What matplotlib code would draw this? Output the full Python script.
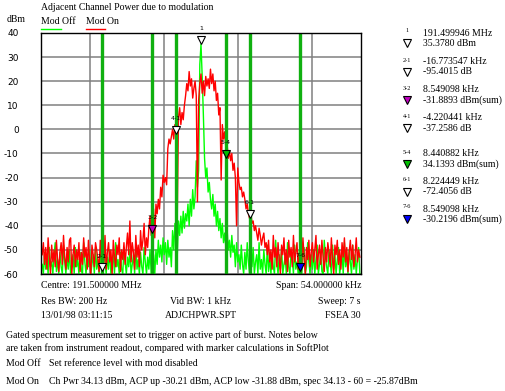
import numpy as np
import matplotlib.pyplot as plt

# spectrum traces in dBm, one point every 0.2 kHz from -26.8 to +26.8 kHz about the centre
mod_on = [
    -52, -47, -56, -49, -58, -45, -53, -60, -48, -55,
    -50, -57, -46, -54, -59, -51, -47, -56, -44, -53,
    -58, -49, -55, -46, -45, -60, -52, -48, -57, -50,
    -54, -47, -59, -51, -56, -45, -53, -49, -58, -46,
    -55, -60, -48, -52, -57, -47, -50, -54, -59, -46,
    -53, -49, -56, -44, -58, -51, -47, -55, -50, -60,
    -46, -53, -57, -48, -52, -45, -59, -50, -54, -47,
    -56, -49, -43, -52, -38, -55, -47, -51, -58, -44,
    -53, -48, -57, -42, -50, -46, -39, -52, -45, -49,
    -41, -36, -44, -38, -33, -45, -31, -35, -29, -33,
    -24, -28, -19, -22, -20, -23, -8, -4, -6, -3,
    0, -4, 2, -1, -35, 5, 9, 2, 7, 4,
    10, 14, 19, 16, 24, 18, 21, 13, 17, 20,
    14, -30, 12, 19, 23, 15, 20, 14, 22, 18,
    21, 17, 25, 19, 23, 16, 20, 12, 15, 6,
    9, -21, 2, -4, -1, -8, -6, -12, -9, -13,
    -10, -17, -14, -20, -40, -16, -22, -25, -24, -28,
    -26, -29, -33, -31, -35, -37, -34, -39, -38, -42,
    -40, -43, -46, -41, -44, -48, -45, -43, -49, -47,
    -52, -46, -55, -50, -58, -44, -53, -49, -57, -47,
    -54, -60, -48, -52, -45, -56, -50, -59, -46, -53,
    -49, -57, -44, -55, -51, -47, -58, -52, -48, -56,
    -45, -53, -60, -49, -54, -46, -57, -51, -47, -55,
    -50, -44, -58, -52, -48, -56, -46, -53, -59, -49,
    -55, -47, -51, -57, -45, -54, -60, -48, -52, -46,
    -56, -50, -58, -47, -53, -45, -55, -49, -59, -51,
    -46, -54, -48, -57, -52, -45, -55, -50, -53,
]
mod_off = [
    -56, -60, -51, -58, -53, -60, -49, -57, -55, -60,
    -52, -47, -59, -54, -60, -51, -57, -60, -48, -55,
    -60, -53, -58, -50, -60, -56, -52, -60, -49, -57,
    -54, -60, -51, -58, -60, -47, -55, -60, -53, -57,
    -50, -60, -56, -52, -60, -49, -58, -54, -60, -51,
    -57, -60, -48, -55, -60, -53, -58, -50, -60, -56,
    -52, -60, -47, -57, -54, -60, -51, -58, -60, -49,
    -55, -60, -53, -57, -50, -60, -56, -52, -60, -48,
    -58, -54, -60, -51, -57, -60, -49, -55, -60, -53,
    -58, -50, -60, -56, -52, -60, -50, -56, -46, -53,
    -48, -55, -45, -52, -47, -56, -46, -53, -49, -57,
    -42, -50, -39, -47, -52, -38, -44, -36, -43, -34,
    -41, -35, -38, -31, -40, -29, -36, -25, -33, -28,
    -13, -24, -17, 27, 35.4, 22, 6, -12, -20, -16,
    -26, -22, -29, -33, -27, -36, -31, -40, -34, -42,
    -37, -45, -39, -47, -43, -49, -41, -50, -46, -53,
    -44, -51, -48, -57, -47, -55, -52, -58, -48, -56,
    -60, -51, -58, -47, -55, -60, -53, -57, -49, -60,
    -55, -52, -60, -47, -58, -54, -60, -50, -56, -60,
    -48, -59, -53, -60, -51, -57, -60, -46, -55, -60,
    -52, -58, -49, -60, -56, -53, -60, -47, -57, -60,
    -51, -54, -60, -48, -58, -55, -60, -50, -56, -60,
    -53, -49, -60, -57, -47, -55, -60, -52, -58, -50,
    -60, -54, -48, -60, -56, -51, -59, -60, -46, -53,
    -57, -60, -50, -55, -60, -48, -58, -52, -60, -54,
    -49, -60, -56, -51, -60, -47, -57, -53, -60, -50,
    -55, -60, -48, -58, -52, -60, -54, -49, -60,
]
freq_khz = np.linspace(-26.8, 26.8, len(mod_on))

y_ticks = [40, 30, 20, 10, 0, -10, -20, -30, -40, -50, -60]
grid_khz = [-18.75, -6.25, 6.25, 18.75]
channel_khz = [-16.75, -8.25, -4.25, 4.25, 8.25, 16.75]

marker_names = ['1', '2-1', '3-2', '4-1', '5-4', '6-1', '7-6']
marker_khz = [0.0, -16.77, -8.22, -4.22, 4.22, 8.22, 16.77]
marker_dbm = [37.3, -57.3, -41.3, -0.2, -10.2, -34.9, -57.0]
marker_fill = ['white', 'white', '#c000c0', 'white', '#00c000', 'white', '#0000ff']
marker_line1 = ['191.499946 MHz', '-16.773547 kHz', '8.549098 kHz', '-4.220441 kHz',
                '8.440882 kHz', '8.224449 kHz', '8.549098 kHz']
marker_line2 = ['35.3780 dBm', '-95.4015 dB', '-31.8893 dBm(sum)', '-37.2586 dB',
                '34.1393 dBm(sum)', '-72.4056 dB', '-30.2196 dBm(sum)']
panel_y = [33, 62, 90, 118, 154, 182, 209]

W, H = 505, 391
FONT = 'Liberation Serif'
fig = plt.figure(figsize=(W / 100, H / 100), dpi=100)
ax = fig.add_axes([41 / W, 1 - 274 / H, 320 / W, 241 / H])


def txt(x, y, s, size=7, ha='left', **kw):
    fig.text(x / W, 1 - y / H, s, ha=ha, va='center', fontsize=size, family=FONT, **kw)


# grid
for y in y_ticks:
    ax.axhline(y, color='#808080', lw=1.1, zorder=1)
for x in grid_khz:
    ax.axvline(x, color='#808080', lw=1.1, zorder=1)

# traces
ax.plot(freq_khz, mod_off, color='#00ff00', lw=1.0, zorder=2)
ax.plot(freq_khz, mod_on, color='#ff0000', lw=1.0, zorder=3)

# channel limits
for x in channel_khz:
    ax.axvline(x, color='#10b010', lw=2.4, zorder=4)

# markers
for name, fx, lv, fc in zip(marker_names, marker_khz, marker_dbm, marker_fill):
    ax.plot(fx, lv, marker='v', ms=6, mfc=fc, mec='black', mew=0.8, zorder=6, clip_on=False)
    ax.annotate(name, (fx, lv), xytext=(0, 8), textcoords='offset points', ha='center',
                va='center', fontsize=4.5, family='DejaVu Sans', zorder=6,
                annotation_clip=False)

ax.set_xlim(-27, 27)
ax.set_ylim(-60, 40)
ax.set_xticks([])
ax.set_yticks(y_ticks)
ax.set_yticklabels([str(v) for v in y_ticks], family='DejaVu Sans', fontsize=6.5)
ax.tick_params(axis='y', length=0, pad=16)
for s in ax.spines.values():
    s.set_color('black')
    s.set_linewidth(1.0)
    s.set_zorder(5)

# header
txt(41, 8, 'Adjacent Channel Power due to modulation')
txt(7, 19, 'dBm')
txt(41, 22, 'Mod Off')
txt(86, 22, 'Mod On')
fig.add_artist(plt.Line2D([41 / W, 61 / W], [1 - 29 / H] * 2, color='#00ff00', lw=1))
fig.add_artist(plt.Line2D([86 / W, 105 / W], [1 - 29 / H] * 2, color='#ff0000', lw=1))

# marker panel
for name, fc, l1, l2, y in zip(marker_names, marker_fill, marker_line1, marker_line2, panel_y):
    txt(407, y - 2, name, size=4.5, ha='center')
    fig.add_artist(plt.Line2D([407 / W], [1 - (y + 10) / H], marker='v', ms=6, mfc=fc,
                              mec='black', mew=0.8))
    txt(423, y, l1)
    txt(423, y + 10, l2)

# instrument settings
txt(41, 285, 'Centre: 191.500000 MHz')
txt(361, 285, 'Span: 54.000000 kHz', ha='right')
txt(41, 301, 'Res BW: 200 Hz')
txt(201, 301, 'Vid BW: 1 kHz', ha='center')
txt(361, 301, 'Sweep: 7 s', ha='right')
txt(41, 316, '13/01/98 03:11:15')
txt(201, 316, 'ADJCHPWR.SPT', ha='center')
txt(361, 316, 'FSEA 30', ha='right')

# notes
txt(6, 335, 'Gated spectrum measurement set to trigger on active part of burst. Notes below')
txt(6, 348, 'are taken from instrument readout, compared with marker calculations in SoftPlot')
txt(6, 364, 'Mod Off')
txt(49, 364, 'Set reference level with mod disabled')
txt(6, 381, 'Mod On')
txt(49, 381, 'Ch Pwr 34.13 dBm, ACP up -30.21 dBm, ACP low -31.88 dBm, spec 34.13 - 60 = -25.87dBm')

fig.savefig('out.png', dpi=100)
